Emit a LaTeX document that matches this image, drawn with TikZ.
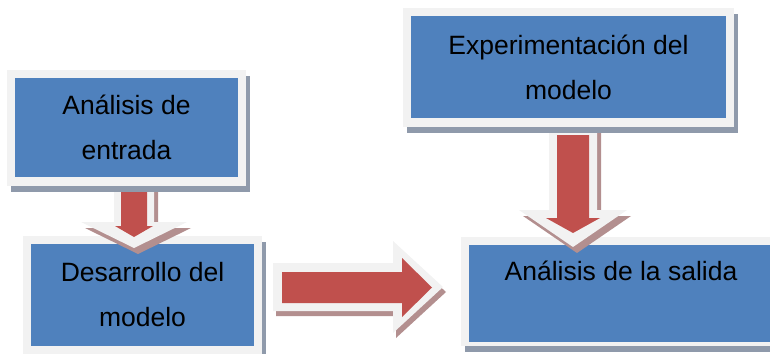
\documentclass[tikz,border=0pt]{standalone}
\usepackage{fontspec}
\setmainfont{Liberation Sans}
\definecolor{boxblue}{HTML}{4F81BD}
\definecolor{arrred}{HTML}{C0504D}
\definecolor{framegray}{HTML}{F2F2F2}
\definecolor{boxshadow}{HTML}{8F9AAB}
\definecolor{arrshadow}{HTML}{B38F8F}
\tikzset{
  panel/.style={fill=boxblue, draw=none, inner sep=0pt, align=center,
    font=\fontsize{26.5}{45}\selectfont, text=black},
  framefill/.style={fill=framegray},
  boxshade/.style={fill=boxshadow},
  arrowframe/.style={fill=framegray},
  arrowshade/.style={fill=arrshadow},
  arrowbody/.style={fill=arrred}
}
\begin{document}
\begin{tikzpicture}[x=1pt,y=-1pt]
\useasboundingbox (0,0) rectangle (770,353);

% Box: Analisis de la salida
\fill[boxshade] (465,243) rectangle (785,352);
\fill[framefill] (461,237) rectangle (781,346);
\node[panel, minimum width=304pt, minimum height=97pt] (sal) at (621,293.5) {Análisis de la salida\\\mbox{}};

% Box: Desarrollo del modelo
\fill[boxshade] (27,242) rectangle (266,360);
\fill[framefill] (23,236) rectangle (262,354);
\node[panel, minimum width=223pt, minimum height=102pt] (des) at (142.5,295) {Desarrollo del\\modelo};

% Arrow: entrada -> desarrollo
\fill[arrowshade, shift={(4,6)}] (114,186) -- (154,186) -- (154,222) -- (187,222) -- (134,248) -- (81,222) -- (114,222) -- cycle;
\fill[arrowframe] (114,180) -- (154,180) -- (154,222) -- (187,222) -- (134,248) -- (81,222) -- (114,222) -- cycle;
\fill[arrowbody] (121,186) -- (147,186) -- (147,226) -- (153,226) -- (134,237) -- (115,226) -- (121,226) -- cycle;

% Arrow: experimentacion -> salida
\fill[arrowshade, shift={(4,6)}] (549,127) -- (597,127) -- (597,210) -- (627,210) -- (573,247) -- (519,210) -- (549,210) -- cycle;
\fill[arrowframe] (549,127) -- (597,127) -- (597,210) -- (627,210) -- (573,247) -- (519,210) -- (549,210) -- cycle;
\fill[arrowbody] (557,135) -- (589,135) -- (589,218) -- (600,218) -- (573,233) -- (546,218) -- (557,218) -- cycle;

% Arrow: desarrollo -> salida
\fill[arrowshade, shift={(3,5)}] (273,263) -- (393,263) -- (393,241) -- (443,287) -- (393,333) -- (393,311) -- (273,311) -- cycle;
\fill[arrowframe] (273,263) -- (393,263) -- (393,241) -- (443,287) -- (393,333) -- (393,311) -- (273,311) -- cycle;
\fill[arrowbody] (282,272) -- (402,272) -- (402,258) -- (432,287.5) -- (402,317) -- (402,303) -- (282,303) -- cycle;

% Box: Analisis de entrada
\fill[boxshade] (11,76) rectangle (250,192);
\fill[framefill] (7,70) rectangle (246,186);
\node[panel, minimum width=223pt, minimum height=99pt] (ent) at (126.5,127.5) {Análisis de\\entrada};

% Box: Experimentacion del modelo
\fill[boxshade] (407,14) rectangle (738,133);
\fill[framefill] (403,8) rectangle (734,127);
\node[panel, minimum width=315pt, minimum height=102pt] (exp) at (568.5,67) {Experimentación del\\modelo};
\end{tikzpicture}
\end{document}
